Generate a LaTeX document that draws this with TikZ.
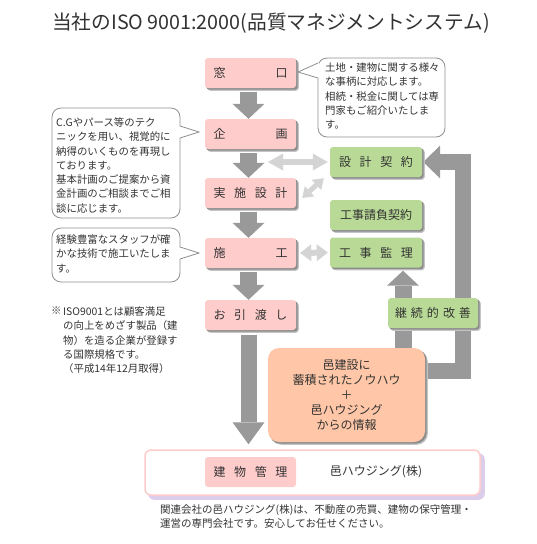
\documentclass[tikz,border=0pt]{standalone}
\usepackage{fontspec}
\setmainfont{Noto Sans CJK JP}
\usetikzlibrary{arrows.meta,calc}
\definecolor{pinkc}{HTML}{FFCCCC}
\definecolor{greenc}{HTML}{B9DA96}
\definecolor{orangec}{HTML}{FFC7A7}
\definecolor{arrowgray}{HTML}{999999}
\definecolor{lightarr}{HTML}{D4D4D4}
\definecolor{txt}{HTML}{333333}
\definecolor{callline}{HTML}{8F8F8F}
\definecolor{lavender}{HTML}{DCCDEA}
\definecolor{shadowdark}{HTML}{8C8C8C}
\definecolor{shadowsoft}{HTML}{C4C4C4}
\pgfdeclarelayer{background}
\pgfdeclarelayer{shadowlayer}
\pgfsetlayers{background,shadowlayer,main}
\newcommand\spreadtxt[1]{\makebox[74pt]{#1}}
\newcommand\dropshadow[2]{%
  \fill[shadowsoft, rounded corners=#2] ($(#1.south west)+(2.6,2.6)$) rectangle ($(#1.north east)+(2.6,2.6)$);
  \fill[shadowdark, rounded corners=#2] ($(#1.south west)+(1.5,1.5)$) rectangle ($(#1.north east)+(1.5,1.5)$);}
\tikzset{
  pinkbox/.style={fill=pinkc, rounded corners=3pt, minimum width=91pt, minimum height=30pt, inner sep=0pt, text=txt, font=\fontsize{12}{14}\selectfont},
  greenbox/.style={fill=greenc, rounded corners=3pt, minimum width=92pt, minimum height=30pt, inner sep=0pt, text=txt, font=\fontsize{12}{14}\selectfont},
  orangebox/.style={fill=orangec, rounded corners=11pt, minimum width=157pt, minimum height=94pt, inner sep=0pt, text=txt, align=center, font=\fontsize{12}{15}\selectfont},
  outerbox/.style={draw=pinkc, line width=1.5pt, fill=white, rounded corners=6pt, minimum width=335pt, minimum height=45pt, inner sep=0pt},
  plaintext/.style={inner sep=0pt, text=txt, font=\fontsize{12}{14}\selectfont},
  calltext/.style={inner sep=0pt, anchor=north west, align=left, text=txt, font=\fontsize{10.4}{14.3}\selectfont},
  callout/.style={draw=callline, line width=0.8pt, fill=white, rounded corners=9pt},
  pointer/.style={draw=callline, line width=0.8pt},
  titletext/.style={inner sep=0pt, text=txt, font=\fontsize{19.7}{22}\selectfont},
  bigarrow/.style={draw=arrowgray, line width=17pt, -{Triangle[width=32pt,length=15pt,line width=0pt 0 0]}},
  longarrow/.style={draw=arrowgray, line width=16pt, -{Triangle[width=32pt,length=22pt,line width=0pt 0 0]}},
  looparrow/.style={draw=arrowgray, line width=16pt, line join=miter, -{Triangle[width=33pt,length=17pt,line width=0pt 0 0]}},
  lightarrow/.style={draw=lightarr, line width=6pt, {Triangle[width=17pt,length=15pt,line width=0pt 0 0]}-{Triangle[width=17pt,length=15pt,line width=0pt 0 0]}},
  lightshort/.style={draw=lightarr, line width=6pt, {Triangle[width=17pt,length=11pt,line width=0pt 0 0]}-{Triangle[width=17pt,length=11pt,line width=0pt 0 0]}},
  lightdiag/.style={draw=lightarr, line width=5pt, {Triangle[width=14pt,length=10pt,line width=0pt 0 0]}-{Triangle[width=14pt,length=10pt,line width=0pt 0 0]}},
}
\begin{document}
\begin{tikzpicture}[x=1pt,y=-1pt]
\useasboundingbox (0,0) rectangle (536,544);
\begin{pgfonlayer}{background}
\fill[white] (0,0) rectangle (536,544);
\end{pgfonlayer}

% title
\node[titletext] (title) at (271,23) {当社のISO 9001:2000(品質マネジメントシステム)};

% pink flow boxes
\node[pinkbox] (mado) at (250.5,73) {\spreadtxt{窓\hfill 口}};
\node[pinkbox] (kikaku) at (250.5,134) {\spreadtxt{企\hfill 画}};
\node[pinkbox] (jisshi) at (250.5,193) {\spreadtxt{実\hfill 施\hfill 設\hfill 計}};
\node[pinkbox] (seko) at (250.5,253) {\spreadtxt{施\hfill 工}};
\node[pinkbox] (ohiki) at (250.5,315) {\spreadtxt{お\hfill 引\hfill 渡\hfill し}};

% green boxes
\node[greenbox] (sekkei) at (376,162) {\spreadtxt{設\hfill 計\hfill 契\hfill 約}};
\node[greenbox] (ukeoi) at (376,215) {工事請負契約};
\node[greenbox] (kanri) at (376,252.5) {\spreadtxt{工\hfill 事\hfill 監\hfill 理}};
\node[greenbox, minimum width=90pt] (kaizen) at (433,313) {\makebox[76pt]{継\hfill 続\hfill 的\hfill 改\hfill 善}};

% orange box
\node[orangebox] (know) at (346.5,395) {邑建設に\\蓄積されたノウハウ\\＋\\邑ハウジング\\からの情報};

% bottom box
\node[outerbox] (outer) at (312.5,472.5) {};
\node[pinkbox] (tatemono) at (250.5,472) {\spreadtxt{建\hfill 物\hfill 管\hfill 理}};
\node[plaintext] (housing) at (376,472) {邑ハウジング(株)};
\node[calltext, font=\fontsize{10.5}{14}\selectfont] (caption) at (160,504) {関連会社の邑ハウジング(株)は、不動産の売買、建物の保守管理・\\運営の専門会社です。安心してお任せください。};

% shadows
\begin{pgfonlayer}{shadowlayer}
\foreach \n in {mado,kikaku,jisshi,seko,ohiki,sekkei,ukeoi,kanri,kaizen,tatemono}{\dropshadow{\n}{3pt}}
\dropshadow{know}{11pt}
\fill[lavender, rounded corners=6pt] ($(outer.south west)+(4,4)$) rectangle ($(outer.north east)+(4,4)$);
\end{pgfonlayer}

% callouts
\draw[callout] (318,58) rectangle (445,137);
\fill[white] (319,63) -- (298,72) -- (319,78) -- cycle;
\draw[pointer] (318,63) -- (298,72) -- (318,78);
\node[calltext] (c1) at (325,62.5) {土地・建物に関する様々\\な事柄に対応します。\\相続・税金に関しては専\\門家もご紹介いたしま\\す。};

\draw[callout] (52,108) rectangle (180,218);
\fill[white] (179,126) -- (199,132) -- (179,138) -- cycle;
\draw[pointer] (180,126) -- (199,132) -- (180,138);
\node[calltext] (c2) at (56,117.5) {C.Gやパース等のテク\\ニックを用い、視覚的に\\納得のいくものを再現し\\ております。\\基本計画のご提案から資\\金計画のご相談までご相\\談に応じます。};

\draw[callout] (52,228) rectangle (180,282);
\fill[white] (179,247) -- (199,253) -- (179,259) -- cycle;
\draw[pointer] (180,247) -- (199,253) -- (180,259);
\node[calltext] (c3) at (56,234.5) {経験豊富なスタッフが確\\かな技術で施工いたしま\\す。};

% note
\node[calltext] (kome) at (51,306.5) {※};
\node[calltext] (note) at (63,306.5) {ISO9001とは顧客満足\\の向上をめざす製品（建\\物）を造る企業が登録す\\る国際規格です。\\（平成14年12月取得）};

% connectors
\coordinate (lastart) at (268,162);
\coordinate (loopA) at (424,371);
\coordinate (loopC) at (462.5,162);
\coordinate (upstart) at (403,348);
\begin{pgfonlayer}{background}
\draw[bigarrow] ([xshift=-2pt,yshift=-4pt]mado.south) -- ([xshift=-2pt]kikaku.north);
\draw[bigarrow] ([xshift=-2pt,yshift=-4pt]kikaku.south) -- ([xshift=-2pt]jisshi.north);
\draw[bigarrow] ([xshift=-2pt,yshift=-4pt]jisshi.south) -- ([xshift=-2pt]seko.north);
\draw[bigarrow] ([xshift=-2pt,yshift=-4pt]seko.south) -- ([xshift=-2pt]ohiki.north);
\draw[longarrow] ([xshift=-2pt,yshift=-5pt]ohiki.south) -- ($(ohiki.south |- outer.north)+(-2,-5)$);
\draw[looparrow] (loopA) -| (loopC) -- ([xshift=1pt]sekkei.east);
\draw[bigarrow] (upstart) -- ($(kanri.south -| upstart)+(0,3)$);
\end{pgfonlayer}
\draw[lightarrow] (lastart) -- ([xshift=-2pt]sekkei.west);
\draw[lightdiag] ($(jisshi.east)+(6,5)$) -- ($(sekkei.south west)+(-6,1)$);
\draw[lightshort] ([xshift=4pt]seko.east) -- ([xshift=-2pt]kanri.west);
\end{tikzpicture}
\end{document}
